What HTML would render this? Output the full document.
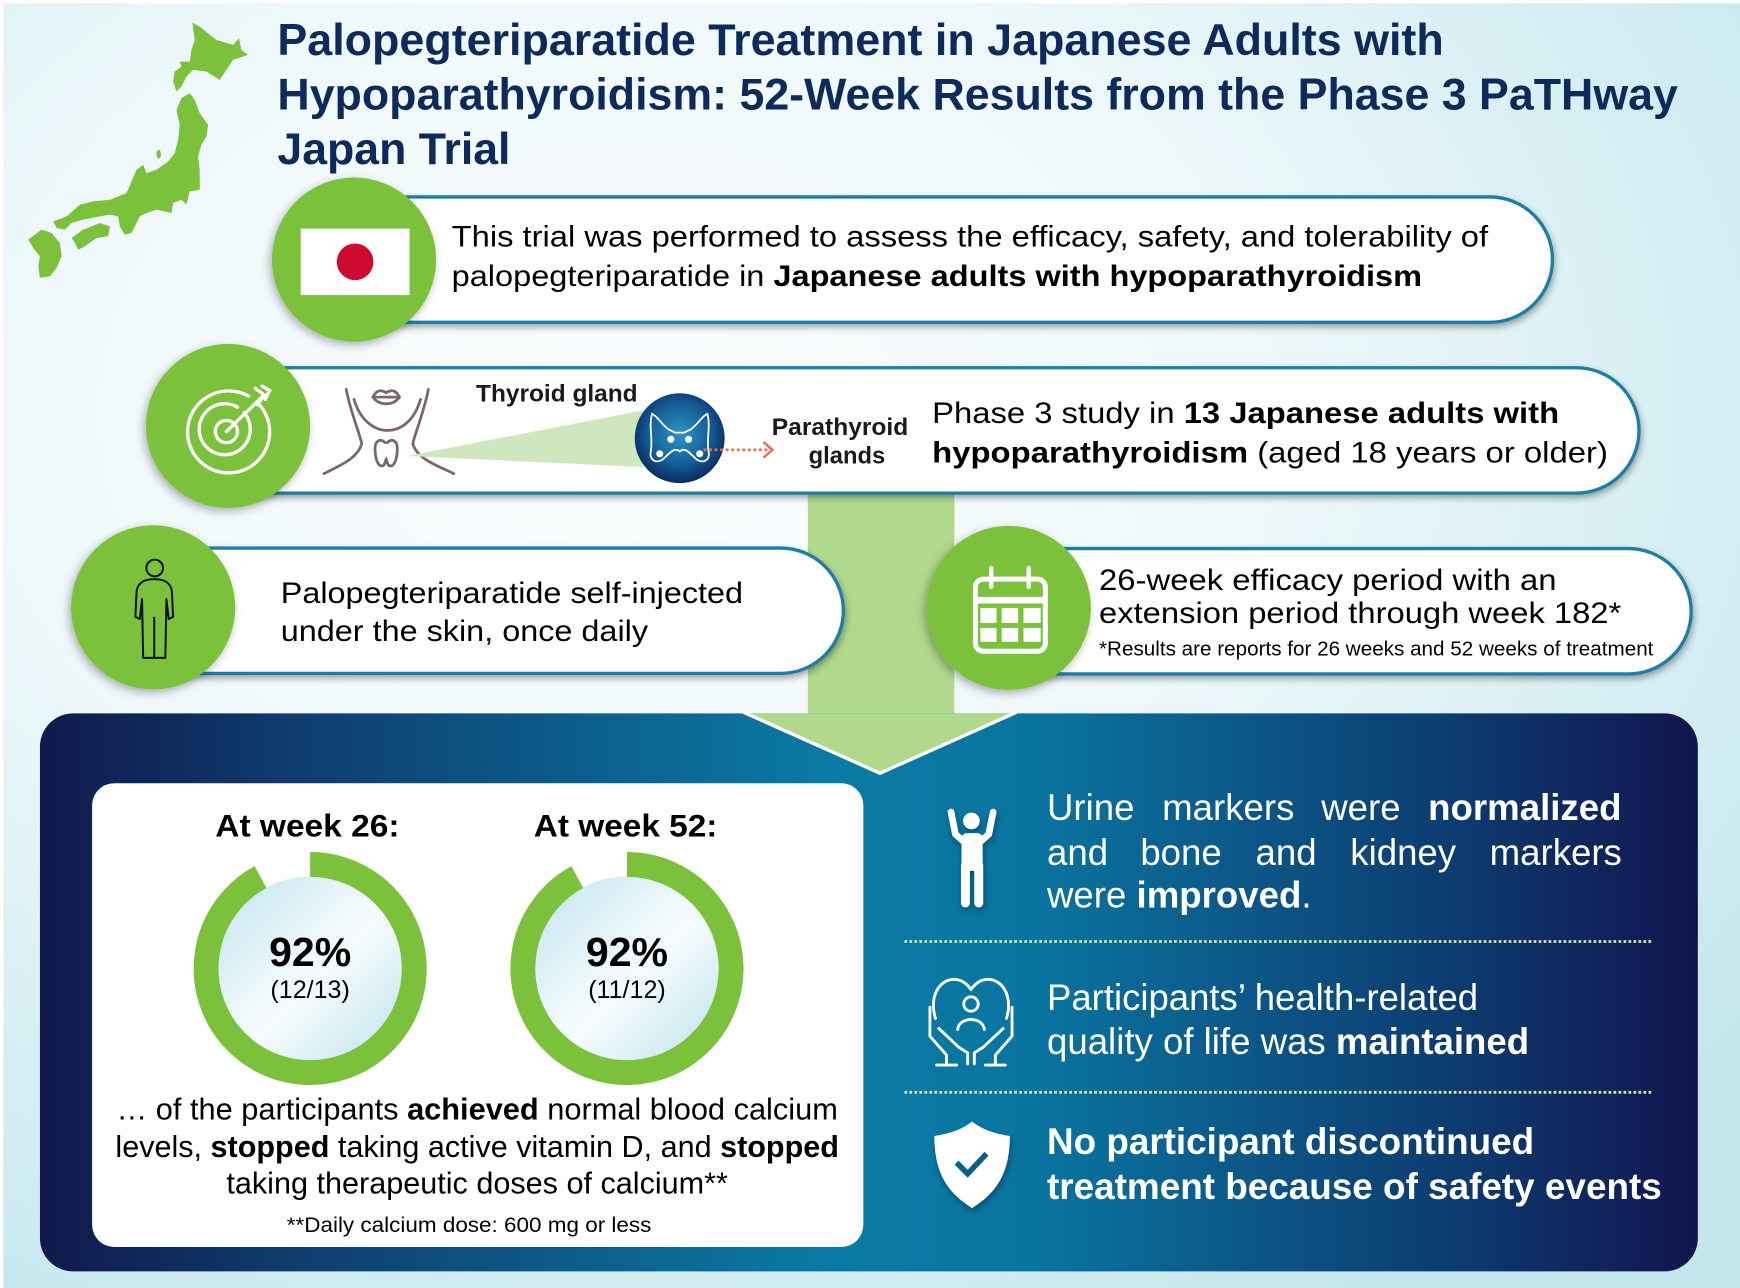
<!DOCTYPE html>
<html><head><meta charset="utf-8"><style>
html,body{margin:0;padding:0;background:#fff;}
svg{display:block;}
text{font-family:"Liberation Sans",Arial,sans-serif;}
</style></head><body>
<svg xmlns="http://www.w3.org/2000/svg" width="1740" height="1288" viewBox="0 0 1568 1161" preserveAspectRatio="none">
<defs>
<radialGradient id="bg" cx="0.36" cy="0.32" r="0.8">
<stop offset="0" stop-color="#fbfdfe"/><stop offset="0.45" stop-color="#eef8fa"/><stop offset="1" stop-color="#c4e7ee"/>
</radialGradient>
<linearGradient id="panel" x1="0" y1="0" x2="1" y2="0">
<stop offset="0" stop-color="#10184c"/><stop offset="0.15" stop-color="#0e3c6d"/><stop offset="0.48" stop-color="#0a7ba6"/><stop offset="0.6" stop-color="#0a74a0"/><stop offset="0.85" stop-color="#0c3c70"/><stop offset="1" stop-color="#12144e"/>
</linearGradient>
<linearGradient id="inner" x1="0" y1="0" x2="1" y2="1">
<stop offset="0" stop-color="#bfe4ee"/><stop offset="0.48" stop-color="#f2fafc"/><stop offset="0.55" stop-color="#f6fbfd"/><stop offset="1" stop-color="#bde3ec"/>
</linearGradient>
<radialGradient id="blue" cx="0.5" cy="0.45" r="0.55">
<stop offset="0" stop-color="#2f93c2"/><stop offset="0.6" stop-color="#15609a"/><stop offset="1" stop-color="#0a2b60"/>
</radialGradient>
<filter id="sh" x="-30%" y="-30%" width="160%" height="160%">
<feDropShadow dx="-2" dy="3" stdDeviation="4" flood-color="#000" flood-opacity="0.3"/>
</filter>
<filter id="sh2" x="-30%" y="-30%" width="160%" height="160%">
<feDropShadow dx="1" dy="3" stdDeviation="3" flood-color="#000" flood-opacity="0.35"/>
</filter>
</defs>

<rect x="0" y="0" width="1568" height="1161" fill="#ffffff"/>
<rect x="3" y="3" width="1565" height="1158" fill="url(#bg)"/>

<!-- Japan map -->
<g fill="#7cc13b">
<polygon points="173.4,20.4 180,24 195,36 210,40.5 215.4,34.5 217.5,45 223.5,49.5 210,54 198,72 186,64.5 174,63 168,69 163.5,78 159,82.5 156,73.5 157.5,64.5 163.5,60 162,55.5 171,55.5 172.5,45 175.5,36"/>
<polygon points="163.5,88.5 171,84 175.5,90 180,102 187.5,112.5 186,123 181.5,130.5 178.5,141 180,153 180,171 171,172.5 168,184.5 163.5,180 156,183 154.5,192 141,189 132,192 126,195 123,201 118.5,210 112.5,211.5 108,204 106.5,195 99,193.5 90,195 75,198 64.5,201 58.5,207 51,205.5 48,199.5 60,195 72,184.5 84,181.5 99,180 106.5,177 114,174 118.5,163.5 123,153 129,148.5 132,156 141,153 151.5,145.5 157.5,138 160.5,126 162,112.5 159,99"/>
<polygon points="25.5,216 37.5,207 46.5,210 54,219 55.5,231 51,241.5 45,249 36,250.5 34.5,240 36,231 30,223.5"/>
<polygon points="64.5,214.5 75,207 90,201 99,204 97.5,213 87,214.5 76.5,222 70.5,225 67.5,219"/>
<ellipse cx="143" cy="139" rx="2" ry="4"/>
</g>

<!-- Title -->
<g fill="#0c2b5c" font-weight="bold" font-size="40">
<text x="250" y="49.6" textLength="1051" lengthAdjust="spacingAndGlyphs">Palopegteriparatide Treatment in Japanese Adults with</text>
<text x="250" y="98.5" textLength="1262" lengthAdjust="spacingAndGlyphs">Hypoparathyroidism: 52-Week Results from the Phase 3 PaTHway</text>
<text x="250" y="148" textLength="210" lengthAdjust="spacingAndGlyphs">Japan Trial</text>
</g>

<!-- Light green connector bar -->
<rect x="728" y="440" width="132" height="206" fill="#b0d98c"/>

<!-- Row 1 -->
<path d="M319,177.5 H1342.5 A56.5,56.5 0 0 1 1342.5,290.5 H319 Z" fill="#fff" stroke="#1a7ea6" stroke-width="3" filter="url(#sh2)"/>
<circle cx="319" cy="234" r="74" fill="#7cc13b" filter="url(#sh)"/>
<rect x="271" y="206" width="98" height="60" fill="#fff"/>
<circle cx="320" cy="236" r="16.5" fill="#cf0a30"/>
<g font-size="27" fill="#000">
<text x="407" y="222" textLength="934" lengthAdjust="spacingAndGlyphs">This trial was performed to assess the efficacy, safety, and tolerability of</text>
<text x="407" y="258" textLength="874.5" lengthAdjust="spacingAndGlyphs">palopegteriparatide in <tspan font-weight="bold">Japanese adults with hypoparathyroidism</tspan></text>
</g>

<!-- Row 2 -->
<path d="M205,331.5 H1420.5 A56.5,56.5 0 0 1 1420.5,444.5 H205 Z" fill="#fff" stroke="#1a7ea6" stroke-width="3" filter="url(#sh2)"/>
<circle cx="205.5" cy="384" r="74" fill="#7cc13b" filter="url(#sh)"/>
<!-- target icon -->
<g fill="none" stroke="#fff" stroke-width="3" stroke-linecap="round">
<path d="M232,363 A37,37 0 1 1 224,357"/>
<path d="M220,372 A23,23 0 1 1 214,367"/>
<circle cx="204" cy="389" r="10"/>
<line x1="204" y1="389" x2="238" y2="356"/>
<polyline points="230,350 238,356 232,365"/>
<polyline points="236,348 243,352 239,360"/>
</g>
<!-- neck icon -->
<g fill="none" stroke="#7a6868" stroke-width="2.5" stroke-linecap="round">
<path d="M312,351 C316,372 324,390 326,400 C322,414 305,420 292,427"/>
<path d="M386,351 C382,372 374,390 372,400 C376,414 395,420 409,427"/>
<path d="M319,360 C325,380 338,388 349,388 C361,388 373,380 379,360"/>
<path d="M336,358 C340,350 345,352 348,354 C351,352 356,350 360,358 C354,366 342,366 336,358 Z"/>
<line x1="337" y1="358" x2="359" y2="358"/>
<path d="M347,399 C343,395 338,397 338,404 C338,412 340,421 345,420 C347,419 347,416 348,414 C349,416 349,419 351,420 C356,421 358,412 358,404 C358,397 353,395 349,399"/>
</g>
<polygon points="367,411 579,370 579,421" fill="#cfe7bf"/>
<circle cx="612.5" cy="395" r="40.5" fill="url(#blue)"/>
<g transform="translate(612.5,395)">
<path d="M-25,-22 C-20,-20 -16,-12 -10,-8 L-4,-5 L4,-5 L10,-8 C16,-12 20,-20 25,-22 C28,-10 24,0 26,12 C28,20 20,24 14,18 C8,12 4,8 0,12 C-4,8 -8,12 -14,18 C-20,24 -28,20 -26,12 C-24,0 -28,-10 -25,-22 Z" fill="none" stroke="#fff" stroke-width="1.6"/>
<g fill="#fff"><circle cx="-8" cy="1" r="3.2"/><circle cx="8" cy="1" r="3.2"/><circle cx="-18" cy="14" r="3.2"/><circle cx="18" cy="14" r="3.2"/></g>
</g>
<line x1="634" y1="405.5" x2="694" y2="405.5" stroke="#f26a3d" stroke-width="2.5" stroke-dasharray="2.5 2.5"/>
<polyline points="688,398.5 696,405.5 688,412.5" fill="none" stroke="#f26a3d" stroke-width="2.2"/>
<g font-weight="bold" font-size="21.5" fill="#1a1a1a">
<text x="429" y="362" textLength="145.6" lengthAdjust="spacingAndGlyphs">Thyroid gland</text>
<text x="695.5" y="392" textLength="123" lengthAdjust="spacingAndGlyphs">Parathyroid</text>
<text x="728.7" y="418" textLength="69" lengthAdjust="spacingAndGlyphs">glands</text>
</g>
<g font-size="27" fill="#000">
<text x="840" y="381.5" textLength="565" lengthAdjust="spacingAndGlyphs">Phase 3 study in <tspan font-weight="bold">13 Japanese adults with</tspan></text>
<text x="840" y="417" textLength="609" lengthAdjust="spacingAndGlyphs"><tspan font-weight="bold">hypoparathyroidism</tspan> (aged 18 years or older)</text>
</g>

<!-- Row 3 left -->
<path d="M138,494 H703.5 A56.5,56.5 0 0 1 703.5,607 H138 Z" fill="#fff" stroke="#1a7ea6" stroke-width="3" filter="url(#sh2)"/>
<circle cx="138" cy="547.5" r="74" fill="#7cc13b" filter="url(#sh)"/>
<g fill="none" stroke="#111" stroke-width="1.8" stroke-linejoin="round">
<circle cx="139.4" cy="512" r="7.5"/>
<path d="M139,522 C128,522 123,527 123,535 L122,556 L126,558 L128,540 L129,593 L149,593 L150,540 L152,558 L156,556 L155,535 C155,527 150,522 139,522 Z"/>
<line x1="139" y1="556" x2="139" y2="593"/>
</g>
<g font-size="27" fill="#000">
<text x="253" y="543.7" textLength="416.6" lengthAdjust="spacingAndGlyphs">Palopegteriparatide  self-injected</text>
<text x="253" y="578" textLength="331" lengthAdjust="spacingAndGlyphs">under the skin, once daily</text>
</g>

<!-- Row 3 right -->
<path d="M909,494.5 H1467.5 A56.5,56.5 0 0 1 1467.5,607.5 H909 Z" fill="#fff" stroke="#1a7ea6" stroke-width="3" filter="url(#sh2)"/>
<circle cx="909" cy="548" r="74" fill="#7cc13b" filter="url(#sh)"/>
<g>
<rect x="879" y="522" width="63" height="65" rx="7" fill="none" stroke="#fff" stroke-width="4.5"/>
<rect x="879" y="538" width="63" height="6" fill="#fff"/>
<line x1="893.3" y1="512" x2="893.3" y2="529" stroke="#fff" stroke-width="4" stroke-linecap="round"/>
<line x1="927" y1="512" x2="927" y2="529" stroke="#fff" stroke-width="4" stroke-linecap="round"/>
<g fill="#fff">
<rect x="883.5" y="548" width="14.5" height="13.5"/><rect x="902.7" y="548" width="14.8" height="13.5"/><rect x="922.3" y="548" width="15.5" height="13.5"/>
<rect x="883.5" y="566" width="14.5" height="12.5"/><rect x="902.7" y="566" width="14.8" height="12.5"/><rect x="922.3" y="566" width="15.5" height="12.5"/>
</g>
</g>
<g fill="#000">
<text x="990.4" y="531.7" font-size="27" textLength="412.3" lengthAdjust="spacingAndGlyphs">26-week efficacy period with an</text>
<text x="990.4" y="561.6" font-size="27" textLength="470.6" lengthAdjust="spacingAndGlyphs">extension period through week 182*</text>
<text x="990.4" y="591" font-size="18.5" textLength="499.6" lengthAdjust="spacingAndGlyphs">*Results are reports for 26 weeks and 52 weeks of treatment</text>
</g>

<!-- Bottom panel -->
<rect x="36" y="643" width="1494" height="503" rx="30" fill="url(#panel)"/>
<polygon points="672,643 914,643 793,697" fill="#b0d98c"/>
<polyline points="670,642 793,697 916,642" fill="none" stroke="#fff" stroke-width="3"/>

<!-- white card -->
<rect x="83" y="706" width="695" height="418" rx="20" fill="#fff"/>
<g font-weight="bold" font-size="28" fill="#000">
<text x="194" y="754" textLength="166" lengthAdjust="spacingAndGlyphs">At week 26:</text>
<text x="481" y="754" textLength="165.5" lengthAdjust="spacingAndGlyphs">At week 52:</text>
</g>
<circle cx="279.5" cy="873" r="83" fill="url(#inner)"/>
<circle cx="565" cy="873" r="83" fill="url(#inner)"/>
<path d="M279.5,779.2 A93.8,93.8 0 1 1 234.74,790.57" fill="none" stroke="#7cc13b" stroke-width="22.4"/>
<path d="M565,779.2 A93.8,93.8 0 1 1 520.24,790.57" fill="none" stroke="#7cc13b" stroke-width="22.4"/>
<g fill="#000" text-anchor="middle">
<text x="279.5" y="870.6" font-size="37" font-weight="bold">92%</text>
<text x="279.5" y="899.5" font-size="22.6">(12/13)</text>
<text x="565" y="870.6" font-size="37" font-weight="bold">92%</text>
<text x="565" y="899.5" font-size="22.6">(11/12)</text>
</g>
<g fill="#000" font-size="27.5">
<text x="105" y="1009.3" textLength="650" lengthAdjust="spacingAndGlyphs">… of the participants <tspan font-weight="bold">achieved</tspan> normal blood calcium</text>
<text x="104" y="1043" textLength="652" lengthAdjust="spacingAndGlyphs">levels, <tspan font-weight="bold">stopped</tspan> taking active vitamin D, and <tspan font-weight="bold">stopped</tspan></text>
<text x="204" y="1076" textLength="452" lengthAdjust="spacingAndGlyphs">taking therapeutic doses of calcium**</text>
<text x="258.4" y="1110.6" font-size="19.5" textLength="328.6" lengthAdjust="spacingAndGlyphs">**Daily calcium dose: 600 mg or less</text>
</g>

<!-- right column -->
<g fill="#fff" filter="url(#sh2)">
<circle cx="875.4" cy="740" r="7.5"/>
<polyline points="857,732 861,752 869,759" fill="none" stroke="#fff" stroke-width="6" stroke-linecap="round" stroke-linejoin="round"/>
<polyline points="895,732 891,752 883,759" fill="none" stroke="#fff" stroke-width="6" stroke-linecap="round" stroke-linejoin="round"/>
<rect x="866.5" y="751" width="19" height="34" rx="5"/>
<line x1="870" y1="780" x2="870" y2="814" stroke="#fff" stroke-width="8" stroke-linecap="round"/>
<line x1="882" y1="780" x2="882" y2="814" stroke="#fff" stroke-width="8" stroke-linecap="round"/>
</g>
<g fill="none" stroke="#fff" stroke-width="2.6" stroke-linecap="round" stroke-linejoin="round">
<path d="M843,918 C836,895 850,878 866,884 C870,886 873,889 875,892 C877,889 880,886 884,884 C900,878 914,895 907,918"/>
<path d="M838,908 L838,934 L853,951 L853,959"/>
<path d="M846,927 L864,944 L872,949 L872,959"/>
<path d="M912,908 L912,934 L897,951 L897,959"/>
<path d="M904,927 L886,944 L878,949 L878,959"/>
<line x1="844" y1="960" x2="862" y2="960"/>
<line x1="888" y1="960" x2="906" y2="960"/>
<circle cx="875" cy="905" r="6.5"/>
<path d="M863,928 C864,916 886,916 887,928"/>
</g>
<path d="M876,1011 C888,1020 899,1022 910,1024 C910,1055 900,1074 876,1089 C852,1074 842,1055 842,1024 C853,1022 864,1020 876,1011 Z" fill="#fff" filter="url(#sh2)"/>
<polyline points="862,1048 872,1058 889,1040" fill="none" stroke="#0b5f86" stroke-width="5"/>

<line x1="815" y1="848.7" x2="1490" y2="848.7" stroke="#cfe6a2" stroke-width="2.5" stroke-dasharray="2.5 2"/>
<line x1="815" y1="984.6" x2="1490" y2="984.6" stroke="#cfe6a2" stroke-width="2.5" stroke-dasharray="2.5 2"/>

<g fill="#fff" font-size="33">
<text x="943.5" y="739">Urine</text>
<text x="1047.3" y="739">markers</text>
<text x="1190.6" y="739">were</text>
<text x="1287" y="739" font-weight="bold">normalized</text>
<text x="943.5" y="779.5">and</text>
<text x="1027.6" y="779.5">bone</text>
<text x="1131.4" y="779.5">and</text>
<text x="1216.8" y="779.5">kidney</text>
<text x="1342.4" y="779.5">markers</text>
<text x="943.5" y="818">were <tspan font-weight="bold">improved</tspan>.</text>
<text x="943.5" y="910.6" textLength="388.5" lengthAdjust="spacingAndGlyphs">Participants’ health-related</text>
<text x="943.5" y="950" textLength="434.5" lengthAdjust="spacingAndGlyphs">quality of life was <tspan font-weight="bold">maintained</tspan></text>
<text x="943.5" y="1040.4" font-weight="bold" textLength="439" lengthAdjust="spacingAndGlyphs">No participant discontinued</text>
<text x="943.5" y="1081" font-weight="bold" textLength="554" lengthAdjust="spacingAndGlyphs">treatment because of safety events</text>
</g>
</svg>
</body></html>
